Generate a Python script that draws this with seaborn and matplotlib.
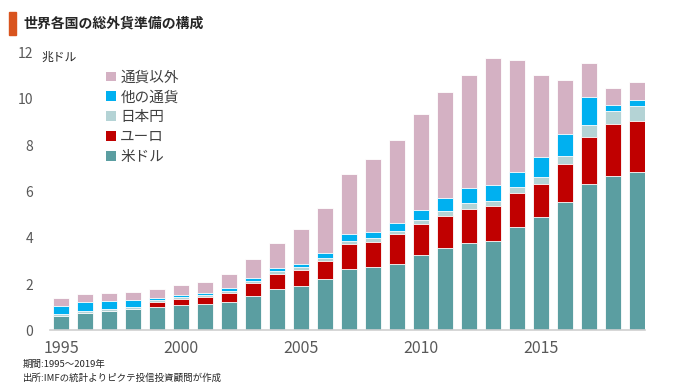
import matplotlib
matplotlib.use("Agg")
import matplotlib.pyplot as plt
from matplotlib.patches import Patch, Rectangle
import seaborn as sns
import pandas as pd
import numpy as np

# Values (trillion USD)
years = list(range(1995, 2020))
usd = [0.63, 0.77, 0.84, 0.92, 1.00, 1.10, 1.14, 1.22, 1.49, 1.78, 1.92, 2.21, 2.66,
       2.73, 2.89, 3.25, 3.56, 3.78, 3.85, 4.47, 4.92, 5.56, 6.34, 6.66, 6.85]
eur = [0, 0, 0, 0, 0.24, 0.27, 0.31, 0.41, 0.55, 0.66, 0.68, 0.81, 1.08,
       1.09, 1.26, 1.34, 1.40, 1.47, 1.53, 1.46, 1.42, 1.62, 2.03, 2.25, 2.21]
jpy = [0.07, 0.09, 0.09, 0.08, 0.08, 0.08, 0.08, 0.09, 0.11, 0.12, 0.13, 0.13, 0.14,
       0.16, 0.15, 0.18, 0.20, 0.24, 0.21, 0.26, 0.29, 0.34, 0.49, 0.58, 0.64]
other = [0.34, 0.38, 0.36, 0.32, 0.08, 0.08, 0.08, 0.10, 0.10, 0.15, 0.16, 0.21, 0.29,
         0.29, 0.33, 0.44, 0.55, 0.65, 0.70, 0.67, 0.85, 0.97, 1.24, 0.25, 0.27]
unalloc = [0.35, 0.35, 0.34, 0.34, 0.39, 0.45, 0.48, 0.60, 0.82, 1.08, 1.48, 1.93, 2.59,
           3.15, 3.61, 4.14, 4.58, 4.90, 5.49, 4.82, 3.54, 2.32, 1.44, 0.72, 0.76]

series = ["米ドル", "ユーロ", "日本円", "他の通貨", "通貨以外"]
colors = {"米ドル": "#5B9EA1", "ユーロ": "#C00000", "日本円": "#B4D3D5",
          "他の通貨": "#00B0F0", "通貨以外": "#D4B1C3"}
xtick_years = [1995, 2000, 2005, 2010, 2015]

sns.set_theme(style="white")
plt.rcParams['font.family'] = ['Noto Sans CJK JP', 'DejaVu Sans']

df = pd.DataFrame({"year": years, "米ドル": usd, "ユーロ": eur, "日本円": jpy,
                   "他の通貨": other, "通貨以外": unalloc})
# cumulative heights: draw the tallest stack first, then overlay lower ones
cum = df[series].cumsum(axis=1)

fig = plt.figure(figsize=(6.8, 3.9), dpi=100)
ax = fig.add_axes([0.0735, 0.1526, 0.875, 0.7123])

for name in reversed(series):
    sns.barplot(x=df["year"], y=cum[name], color=colors[name], width=0.64,
                edgecolor="white", linewidth=0.6, saturation=1, ax=ax)

ax.set_ylim(0, 12)
ax.set_xlim(-0.46, len(years) - 1 + 0.33)
ax.set_yticks([0, 2, 4, 6, 8, 10, 12])
ax.set_yticklabels(["0", "2", "4", "6", "8", "10", "12"], fontsize=10, color="#595959")
ax.set_xticks([years.index(y) for y in xtick_years])
ax.set_xticklabels([str(y) for y in xtick_years], fontsize=11.5, color="#595959")
ax.tick_params(axis="both", length=0)
ax.tick_params(axis="x", pad=7)
ax.tick_params(axis="y", pad=12)
ax.set_xlabel("")
ax.set_ylabel("")
for s in ["top", "right", "left"]:
    ax.spines[s].set_visible(False)
ax.spines["bottom"].set_color("#D0D0D0")
ax.spines["bottom"].set_linewidth(1.2)

# legend (top of stack first)
handles = [Patch(facecolor=colors[n], edgecolor="none", label=n) for n in reversed(series)]
leg = fig.legend(handles=handles, loc="upper left", bbox_to_anchor=(0.148, 0.834),
                 frameon=False, fontsize=10.5, handlelength=0.65, handleheight=0.65,
                 handletextpad=0.3, labelspacing=0.4, borderaxespad=0)
for t in leg.get_texts():
    t.set_color("#404040")

# title with orange marker
fig.patches.append(Rectangle((9 / 680, 1 - 35 / 390), 7 / 680, 23 / 390,
                             transform=fig.transFigure, color="#D9541E"))
fig.text(23 / 680, 1 - 24 / 390, "世界各国の総外貨準備の構成", fontsize=10,
         fontweight="bold", color="#262626", va="center", ha="left")
fig.text(41 / 680, 1 - 57 / 390, "兆ドル", fontsize=8.5, color="#262626",
         va="center", ha="left")

fig.text(23 / 680, 1 - 364 / 390, "期間:1995～2019年", fontsize=6.8,
         color="#262626", va="center", ha="left")
fig.text(23 / 680, 1 - 378 / 390, "出所:IMFの統計よりピクテ投信投資顧問が作成",
         fontsize=6.8, color="#262626", va="center", ha="left")

fig.savefig("out.png", dpi=100)
